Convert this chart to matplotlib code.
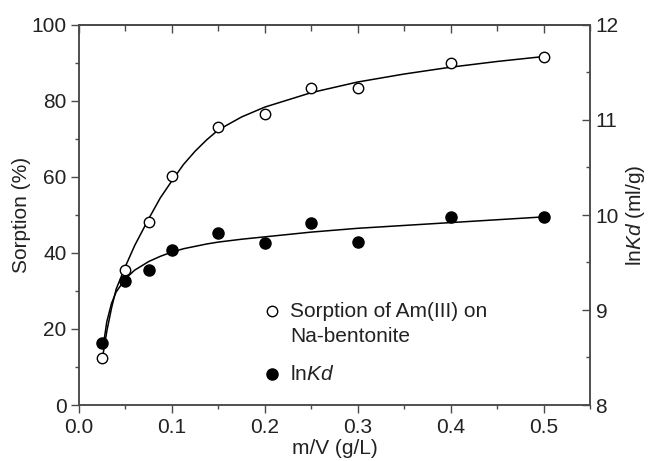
import matplotlib
matplotlib.use("Agg")
import matplotlib.pyplot as plt
from matplotlib.ticker import MultipleLocator, FormatStrFormatter

# measured points
mv = [0.025, 0.05, 0.075, 0.1, 0.15, 0.2, 0.25, 0.3, 0.4, 0.5]
sorption = [12.4, 35.5, 48.2, 60.3, 73.1, 76.7, 83.5, 83.5, 89.9, 91.5]
ln_kd = [8.65, 9.31, 9.42, 9.63, 9.81, 9.70, 9.92, 9.72, 9.98, 9.98]

# fitted curves
fit_x = [0.026, 0.03, 0.035, 0.04, 0.05, 0.06, 0.075, 0.0875, 0.1, 0.1125,
         0.125, 0.1375, 0.15, 0.175, 0.2, 0.25, 0.3, 0.35, 0.4, 0.45, 0.5]
fit_sorption = [13.5, 19.5, 25.5, 30.5, 36.5, 42.0, 49.0, 54.5, 59.0, 63.3,
                66.8, 69.8, 72.4, 75.8, 78.4, 82.2, 85.0, 87.1, 88.9, 90.4, 91.7]
fit_ln_kd = [8.62, 8.88, 9.07, 9.19, 9.33, 9.42, 9.51, 9.565, 9.61, 9.645,
             9.67, 9.695, 9.715, 9.745, 9.77, 9.82, 9.86, 9.89, 9.92, 9.95, 9.98]

INK = "#222222"
SPINE = "#4a4a4a"

plt.rcParams.update({
    "font.family": ["Liberation Sans", "DejaVu Sans"],
    "font.size": 15,
    "text.color": INK,
    "axes.labelcolor": INK,
    "xtick.color": SPINE,
    "ytick.color": SPINE,
    "xtick.labelcolor": INK,
    "ytick.labelcolor": INK,
    "mathtext.fontset": "custom",
    "mathtext.rm": "Liberation Sans",
    "mathtext.it": "Liberation Sans:italic",
})

fig = plt.figure(figsize=(6.49, 4.61), dpi=100)
ax = fig.add_axes([79 / 649, 56 / 461, 511 / 649, 380 / 461])
ax2 = ax.twinx()

# sorption (left axis)
ax.plot(fit_x, fit_sorption, color="black", lw=1.1)
ax.plot(mv, sorption, "o", ms=7.5, mfc="white", mec="black", mew=1.0)

# lnKd (right axis)
ax2.plot(fit_x, fit_ln_kd, color="black", lw=1.1)
ax2.plot(mv, ln_kd, "o", ms=8, mfc="black", mec="black")

ax.set_xlim(0, 0.55)
ax.set_ylim(0, 100)
ax2.set_ylim(8, 12)

ax.xaxis.set_major_locator(MultipleLocator(0.1))
ax.xaxis.set_minor_locator(MultipleLocator(0.05))
ax.xaxis.set_major_formatter(FormatStrFormatter("%.1f"))
ax.yaxis.set_major_locator(MultipleLocator(20))
ax.yaxis.set_minor_locator(MultipleLocator(10))
ax2.yaxis.set_major_locator(MultipleLocator(1))
ax2.yaxis.set_minor_locator(MultipleLocator(0.5))

ax.tick_params(which="both", direction="out", right=False, top=False)
ax.tick_params(which="major", length=5.5, width=1.0)
ax.tick_params(which="minor", length=3, width=1.0)
ax2.tick_params(which="both", direction="in", pad=4)
ax2.tick_params(which="major", length=5.5, width=1.0)
ax2.tick_params(which="minor", length=3, width=1.0)

top = ax.secondary_xaxis("top")
top.xaxis.set_major_locator(MultipleLocator(0.1))
top.xaxis.set_minor_locator(MultipleLocator(0.05))
top.tick_params(which="both", direction="in", labeltop=False, width=1.0)
top.tick_params(which="major", length=6)
top.tick_params(which="minor", length=4)

for a in (ax, ax2, top):
    for s in a.spines.values():
        s.set_color(SPINE)
        s.set_linewidth(1.1)

ax.set_xlabel("m/V (g/L)", labelpad=2)
ax.set_ylabel("Sorption (%)", labelpad=0)
ax2.set_ylabel(r"ln$\it{Kd}$ (ml/g)", labelpad=4)

# legend, drawn by hand so the marker sits on the first text line
ax2.plot([0.3777], [0.2474], "o", ms=7.5, mfc="white", mec="black",
         transform=ax2.transAxes, clip_on=False)
ax2.plot([0.3777], [0.0816], "o", ms=8, mfc="black", mec="black",
         transform=ax2.transAxes, clip_on=False)
ax2.text(0.413, 0.2316, "Sorption of Am(III) on", transform=ax2.transAxes,
         va="baseline", ha="left")
ax2.text(0.413, 0.1671, "Na-bentonite", transform=ax2.transAxes,
         va="baseline", ha="left")
ax2.text(0.413, 0.0658, r"ln$\it{Kd}$", transform=ax2.transAxes,
         va="baseline", ha="left")

fig.savefig("out.png", dpi=100, facecolor="white")
